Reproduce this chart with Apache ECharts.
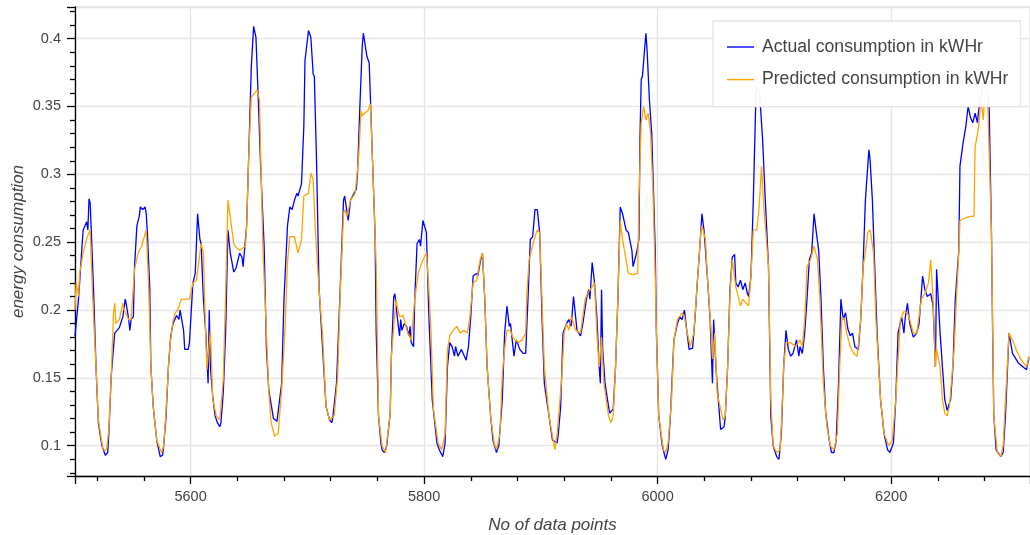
<!DOCTYPE html>
<html>
<head>
<meta charset="utf-8">
<script src="https://cdn.jsdelivr.net/npm/echarts@6/dist/echarts.min.js"></script>
<style>
  html, body { margin: 0; padding: 0; background: #fff; }
  #chart { width: 1030px; height: 535px; }
</style>
</head>
<body>
<div id="chart"></div>
<script>
// [data point index, kWHr]
const actualPoints = [
  [5501,0.181],[5504,0.208],[5507,0.247],[5508,0.259],[5511,0.265],[5512,0.259],[5513,0.282],[5514,0.279],[5515,0.257],[5517,0.212],
  [5519,0.158],[5521,0.117],[5524,0.100],[5527,0.093],[5529,0.095],[5530,0.109],[5532,0.151],[5535,0.183],[5537,0.185],[5539,0.187],
  [5542,0.195],[5544,0.208],[5545,0.204],[5547,0.193],[5548,0.185],[5549,0.193],[5551,0.195],[5552,0.232],[5554,0.262],[5556,0.269],
  [5557,0.276],[5559,0.274],[5561,0.276],[5562,0.271],[5563,0.257],[5565,0.217],[5566,0.158],[5568,0.129],[5571,0.104],[5574,0.092],
  [5576,0.093],[5577,0.100],[5579,0.122],[5581,0.158],[5583,0.181],[5585,0.190],[5588,0.196],[5590,0.193],[5591,0.200],[5594,0.185],
  [5595,0.171],[5598,0.171],[5599,0.176],[5602,0.220],[5604,0.227],[5606,0.271],[5608,0.252],[5609,0.249],[5611,0.208],[5613,0.183],
  [5615,0.146],[5616,0.200],[5617,0.158],[5619,0.136],[5621,0.122],[5623,0.117],[5625,0.114],[5626,0.117],[5628,0.139],[5630,0.183],
  [5632,0.259],[5634,0.242],[5637,0.228],[5639,0.231],[5642,0.242],[5644,0.239],[5645,0.232],[5648,0.262],[5650,0.320],[5652,0.379],
  [5654,0.409],[5656,0.401],[5658,0.355],[5660,0.306],[5663,0.247],[5665,0.171],[5667,0.141],[5671,0.120],[5674,0.118],[5675,0.119],
  [5678,0.146],[5680,0.208],[5683,0.262],[5685,0.276],[5687,0.274],[5689,0.281],[5691,0.286],[5692,0.284],[5695,0.293],[5697,0.335],
  [5698,0.384],[5701,0.406],[5703,0.401],[5705,0.374],[5706,0.372],[5708,0.306],[5710,0.217],[5714,0.158],[5716,0.129],[5719,0.119],
  [5721,0.117],[5722,0.122],[5725,0.146],[5728,0.212],[5731,0.281],[5732,0.284],[5735,0.266],[5737,0.281],[5740,0.286],[5742,0.289],
  [5743,0.301],[5745,0.350],[5747,0.394],[5748,0.404],[5751,0.387],[5753,0.382],[5754,0.357],[5756,0.306],[5758,0.257],[5759,0.183],
  [5761,0.122],[5763,0.102],[5764,0.097],[5766,0.095],[5768,0.100],[5771,0.124],[5772,0.166],[5774,0.210],[5775,0.212],[5777,0.195],
  [5779,0.181],[5780,0.193],[5781,0.185],[5783,0.190],[5785,0.188],[5787,0.181],[5788,0.188],[5789,0.176],[5791,0.173],[5792,0.208],
  [5794,0.249],[5796,0.252],[5797,0.247],[5799,0.266],[5802,0.257],[5804,0.198],[5807,0.134],[5811,0.102],[5813,0.097],[5816,0.092],
  [5818,0.102],[5820,0.158],[5822,0.176],[5824,0.173],[5826,0.166],[5827,0.173],[5829,0.166],[5832,0.171],[5836,0.163],[5838,0.173],
  [5840,0.195],[5842,0.225],[5845,0.227],[5846,0.225],[5848,0.235],[5850,0.242],[5852,0.208],[5854,0.158],[5857,0.122],[5859,0.104],
  [5862,0.095],[5864,0.100],[5867,0.134],[5869,0.183],[5871,0.203],[5873,0.188],[5874,0.190],[5877,0.166],[5879,0.178],[5882,0.171],
  [5885,0.168],[5887,0.168],[5889,0.208],[5891,0.252],[5893,0.254],[5895,0.274],[5897,0.274],[5899,0.257],[5901,0.195],[5903,0.146],
  [5907,0.122],[5910,0.104],[5914,0.102],[5915,0.109],[5917,0.129],[5919,0.183],[5922,0.190],[5924,0.193],[5926,0.188],[5928,0.210],
  [5931,0.185],[5934,0.181],[5936,0.190],[5939,0.208],[5941,0.215],[5942,0.208],[5944,0.235],[5946,0.220],[5948,0.195],[5950,0.158],
  [5951,0.146],[5952,0.215],[5953,0.171],[5955,0.146],[5958,0.129],[5959,0.124],[5962,0.127],[5964,0.158],[5966,0.208],[5968,0.276],
  [5970,0.271],[5973,0.259],[5975,0.257],[5978,0.244],[5979,0.232],[5982,0.242],[5984,0.252],[5985,0.330],[5986,0.370],[5987,0.372],
  [5990,0.404],[5991,0.392],[5993,0.355],[5995,0.330],[5998,0.244],[5999,0.183],[6001,0.122],[6004,0.100],[6007,0.090],[6009,0.097],
  [6011,0.122],[6014,0.178],[6017,0.190],[6019,0.195],[6021,0.193],[6023,0.200],[6025,0.185],[6027,0.171],[6030,0.172],[6032,0.193],
  [6034,0.220],[6036,0.244],[6038,0.271],[6040,0.257],[6043,0.220],[6045,0.193],[6047,0.146],[6048,0.193],[6050,0.158],[6052,0.134],
  [6054,0.112],[6057,0.114],[6058,0.122],[6060,0.158],[6062,0.215],[6064,0.239],[6066,0.241],[6067,0.220],[6069,0.217],[6071,0.222],
  [6073,0.215],[6075,0.220],[6077,0.212],[6078,0.210],[6080,0.225],[6082,0.281],[6084,0.350],[6085,0.364],[6087,0.362],[6088,0.352],
  [6090,0.325],[6092,0.286],[6095,0.232],[6097,0.122],[6099,0.100],[6102,0.092],[6104,0.090],[6106,0.109],[6108,0.158],[6110,0.185],
  [6112,0.171],[6114,0.166],[6116,0.168],[6119,0.178],[6121,0.166],[6122,0.173],[6124,0.168],[6126,0.183],[6128,0.208],[6130,0.237],
  [6132,0.242],[6134,0.271],[6136,0.257],[6138,0.244],[6140,0.208],[6142,0.158],[6144,0.124],[6147,0.104],[6149,0.095],[6151,0.095],
  [6153,0.104],[6155,0.146],[6157,0.208],[6159,0.193],[6161,0.198],[6163,0.186],[6165,0.181],[6167,0.183],[6169,0.173],[6172,0.171],
  [6174,0.193],[6176,0.232],[6178,0.281],[6181,0.318],[6182,0.311],[6184,0.281],[6186,0.232],[6188,0.183],[6191,0.134],[6194,0.109],
  [6197,0.097],[6199,0.095],[6202,0.102],[6204,0.134],[6206,0.183],[6209,0.195],[6211,0.183],[6212,0.193],[6214,0.205],[6216,0.190],
  [6219,0.180],[6222,0.183],[6224,0.190],[6227,0.225],[6229,0.215],[6231,0.210],[6234,0.212],[6236,0.203],[6238,0.158],[6239,0.230],
  [6242,0.183],[6244,0.158],[6246,0.134],[6248,0.126],[6251,0.134],[6253,0.158],[6255,0.208],[6258,0.244],[6259,0.306],[6262,0.325],
  [6264,0.335],[6266,0.350],[6268,0.342],[6270,0.338],[6272,0.345],[6274,0.338],[6275,0.347],[6277,0.357],[6279,0.367],[6281,0.370],
  [6284,0.350],[6286,0.257],[6287,0.183],[6288,0.122],[6290,0.097],[6294,0.092],[6296,0.095],[6298,0.122],[6301,0.183],[6304,0.168],
  [6309,0.161],[6316,0.156],[6318,0.165]
];

const predictedPoints = [
  [5501,0.200],[5502,0.220],[5504,0.210],[5505,0.227],[5508,0.242],[5510,0.249],[5511,0.253],[5513,0.257],[5514,0.259],[5516,0.212],
  [5519,0.158],[5521,0.119],[5525,0.097],[5528,0.097],[5530,0.112],[5532,0.151],[5534,0.198],[5535,0.205],[5536,0.190],[5539,0.193],
  [5542,0.205],[5543,0.200],[5547,0.193],[5549,0.193],[5552,0.230],[5555,0.242],[5558,0.247],[5562,0.259],[5564,0.220],[5566,0.158],
  [5568,0.129],[5571,0.104],[5575,0.095],[5577,0.100],[5579,0.127],[5582,0.171],[5585,0.193],[5587,0.198],[5589,0.200],[5592,0.208],
  [5599,0.208],[5602,0.220],[5605,0.222],[5609,0.249],[5611,0.242],[5612,0.208],[5614,0.156],[5617,0.185],[5619,0.134],[5622,0.122],
  [5625,0.119],[5628,0.149],[5630,0.212],[5632,0.281],[5635,0.262],[5637,0.249],[5639,0.246],[5642,0.244],[5647,0.247],[5648,0.262],
  [5650,0.318],[5652,0.357],[5657,0.362],[5659,0.355],[5660,0.316],[5662,0.244],[5665,0.183],[5667,0.139],[5669,0.117],[5672,0.107],
  [5675,0.109],[5678,0.141],[5681,0.188],[5683,0.235],[5685,0.254],[5689,0.254],[5692,0.242],[5695,0.252],[5697,0.284],[5701,0.286],
  [5703,0.301],[5705,0.296],[5707,0.257],[5710,0.215],[5713,0.183],[5716,0.129],[5719,0.119],[5723,0.122],[5726,0.151],[5728,0.208],
  [5731,0.271],[5732,0.274],[5734,0.269],[5737,0.281],[5741,0.286],[5744,0.313],[5746,0.347],[5747,0.343],[5749,0.345],[5752,0.347],
  [5754,0.352],[5756,0.306],[5759,0.232],[5761,0.122],[5764,0.100],[5767,0.095],[5771,0.124],[5772,0.166],[5776,0.208],[5777,0.203],
  [5779,0.195],[5782,0.196],[5784,0.190],[5786,0.183],[5789,0.178],[5792,0.208],[5795,0.227],[5798,0.235],[5802,0.242],[5804,0.217],
  [5806,0.183],[5808,0.127],[5812,0.102],[5815,0.097],[5818,0.109],[5820,0.171],[5822,0.181],[5825,0.185],[5828,0.188],[5831,0.183],
  [5834,0.185],[5837,0.183],[5839,0.193],[5842,0.220],[5845,0.222],[5848,0.237],[5850,0.242],[5852,0.208],[5854,0.158],[5857,0.122],
  [5860,0.102],[5862,0.097],[5865,0.109],[5867,0.153],[5869,0.171],[5871,0.185],[5874,0.185],[5876,0.180],[5878,0.178],[5881,0.176],
  [5884,0.178],[5887,0.183],[5888,0.212],[5890,0.237],[5892,0.244],[5895,0.254],[5897,0.259],[5899,0.257],[5901,0.208],[5903,0.158],
  [5907,0.122],[5912,0.097],[5914,0.109],[5918,0.151],[5920,0.183],[5922,0.190],[5924,0.185],[5926,0.195],[5930,0.185],[5934,0.183],
  [5938,0.208],[5940,0.212],[5944,0.217],[5946,0.220],[5948,0.183],[5950,0.158],[5952,0.180],[5954,0.146],[5958,0.122],[5960,0.117],
  [5962,0.122],[5964,0.158],[5966,0.208],[5968,0.266],[5970,0.252],[5975,0.227],[5979,0.226],[5983,0.227],[5984,0.281],[5986,0.338],
  [5988,0.350],[5990,0.340],[5992,0.345],[5994,0.330],[5996,0.289],[5998,0.225],[5999,0.183],[6001,0.122],[6005,0.097],[6007,0.095],
  [6009,0.102],[6012,0.134],[6014,0.178],[6017,0.193],[6021,0.198],[6023,0.195],[6025,0.185],[6028,0.173],[6031,0.183],[6034,0.220],
  [6037,0.257],[6038,0.262],[6041,0.252],[6043,0.220],[6046,0.183],[6047,0.164],[6049,0.183],[6051,0.139],[6054,0.127],[6056,0.119],
  [6058,0.122],[6060,0.158],[6062,0.212],[6064,0.237],[6067,0.217],[6069,0.210],[6071,0.203],[6073,0.208],[6078,0.203],[6080,0.225],
  [6082,0.259],[6085,0.259],[6087,0.276],[6089,0.306],[6091,0.276],[6095,0.232],[6097,0.134],[6099,0.100],[6102,0.095],[6105,0.097],
  [6107,0.134],[6108,0.158],[6110,0.176],[6114,0.176],[6118,0.173],[6122,0.178],[6124,0.173],[6126,0.193],[6128,0.232],[6131,0.237],
  [6134,0.247],[6137,0.237],[6139,0.208],[6142,0.146],[6145,0.114],[6148,0.100],[6151,0.097],[6154,0.109],[6156,0.158],[6158,0.195],
  [6160,0.193],[6162,0.183],[6165,0.173],[6168,0.168],[6171,0.166],[6174,0.193],[6176,0.232],[6178,0.242],[6180,0.257],[6182,0.259],
  [6185,0.242],[6187,0.193],[6191,0.134],[6194,0.109],[6198,0.100],[6201,0.104],[6204,0.134],[6208,0.193],[6211,0.199],[6214,0.198],
  [6216,0.193],[6219,0.183],[6222,0.183],[6226,0.208],[6229,0.212],[6232,0.220],[6234,0.237],[6236,0.208],[6238,0.158],[6239,0.171],
  [6242,0.158],[6244,0.134],[6246,0.124],[6248,0.122],[6250,0.129],[6254,0.171],[6256,0.208],[6258,0.242],[6259,0.266],[6264,0.268],
  [6268,0.269],[6271,0.269],[6272,0.320],[6273,0.325],[6275,0.335],[6277,0.355],[6279,0.340],[6281,0.377],[6283,0.347],[6284,0.316],
  [6286,0.257],[6288,0.122],[6291,0.095],[6294,0.092],[6296,0.100],[6298,0.134],[6301,0.183],[6305,0.176],[6307,0.171],[6311,0.164],
  [6316,0.158],[6318,0.166]
];

const seriesNames = ['Actual consumption in kWHr', 'Predicted consumption in kWHr'];
const xRange = [5501, 6319];
const yRange = [0.0777, 0.4233];

const font = '"Liberation Sans", Arial, Helvetica, sans-serif';
const axisLineStyle = { color: '#000', width: 1.3 };

let myChart = echarts.init(document.getElementById('chart'));
myChart.setOption({
    animation: false,
    grid: {
        left: 75,
        right: 0,
        top: 7,
        bottom: 59,
        outerBoundsMode: 'none',
        containLabel: false,
        show: true,
        borderColor: '#e5e5e5',
        borderWidth: 1.3
    },
    legend: {
        orient: 'vertical',
        left: 713,
        top: 21,
        padding: [17, 12, 18, 14],
        icon: 'rect',
        itemWidth: 27,
        itemHeight: 1.4,
        itemGap: 14.6,
        backgroundColor: 'rgba(255,255,255,0.95)',
        borderColor: '#e5e5e5',
        borderWidth: 1.3,
        textStyle: { fontSize: 17.6, color: '#444', fontFamily: font, padding: [0, 0, 0, 3], lineHeight: 17 },
        data: seriesNames
    },
    xAxis: {
        type: 'value',
        min: xRange[0],
        max: xRange[1],
        name: 'No of data points',
        nameLocation: 'middle',
        nameGap: 41,
        nameMoveOverlap: false,
        nameTextStyle: { fontSize: 17, fontStyle: 'italic', color: '#444', fontFamily: font },
        axisLine: { lineStyle: axisLineStyle },
        axisTick: { length: 8, lineStyle: axisLineStyle },
        minorTick: { show: true, splitNumber: 5, length: 5, lineStyle: axisLineStyle },
        axisLabel: {
            showMinLabel: false, showMaxLabel: false, margin: 13,
            fontSize: 14.5, color: '#444', fontFamily: font,
            formatter: function (v) { return String(v); }
        },
        splitLine: { lineStyle: { color: '#e5e5e5', width: 1.3 } }
    },
    yAxis: {
        type: 'value',
        min: yRange[0],
        max: yRange[1],
        name: 'energy consumption',
        nameLocation: 'middle',
        nameGap: 48,
        nameMoveOverlap: false,
        nameTextStyle: { fontSize: 17, fontStyle: 'italic', color: '#444', fontFamily: font },
        axisLine: { lineStyle: axisLineStyle },
        axisTick: { length: 8, lineStyle: axisLineStyle },
        minorTick: { show: true, splitNumber: 5, length: 5, lineStyle: axisLineStyle },
        axisLabel: {
            showMinLabel: false, showMaxLabel: false, margin: 14,
            fontSize: 14.5, color: '#444', fontFamily: font,
            formatter: function (v) { return String(v); }
        },
        splitLine: { lineStyle: { color: '#e5e5e5', width: 1.3 } }
    },
    series: [
        {
            name: seriesNames[0],
            type: 'line',
            symbol: 'none',
            data: actualPoints,
            lineStyle: { color: '#0000ff', width: 1.3 },
            itemStyle: { color: '#0000ff' }
        },
        {
            name: seriesNames[1],
            type: 'line',
            symbol: 'none',
            data: predictedPoints,
            lineStyle: { color: '#ffa500', width: 1.3 },
            itemStyle: { color: '#ffa500' }
        }
    ]
});
window.addEventListener('resize', function() {
    myChart.resize();
});
</script>
</body>
</html>
